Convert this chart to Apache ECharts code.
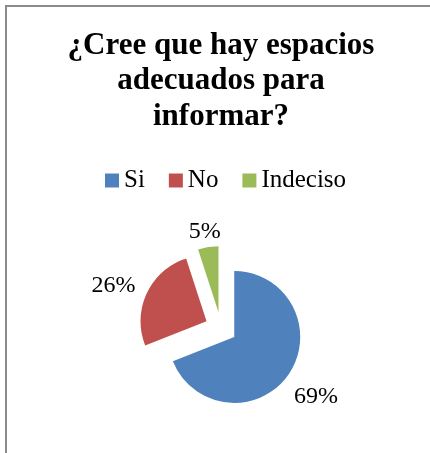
<!DOCTYPE html>
<html>
<head>
<meta charset="utf-8">
<script src="https://cdn.jsdelivr.net/npm/echarts@6/dist/echarts.min.js"></script>
<style>
html,body{margin:0;padding:0;background:#fff;overflow:hidden;}
#main{width:430px;height:453px;}
</style>
</head>
<body>
<div id="main"></div>
<script>
const titleText = '¿Cree que hay espacios\nadecuados para\ninformar?';
const categories = ['Si', 'No', 'Indeciso'];
const values = [69, 26, 5];
const colors = ['#4F81BD', '#C0504D', '#9BBB59'];
// per-slice label line lengths (label placement only, line hidden)
const labelLen1 = [40, 18, 16];
const labelLen2 = [-33, -10, -20];

const chart = echarts.init(document.getElementById('main'), null, {renderer: 'canvas'});
const serif = '"Liberation Serif", "Times New Roman", serif';

const option = {
  animation: false,
  graphic: [{
    type: 'rect',
    shape: {x: 6, y: 6, width: 600, height: 600},
    style: {fill: 'none', stroke: '#8a8a8a', lineWidth: 2},
    silent: true,
    z: -10
  }],
  title: {
    text: titleText,
    left: 221,
    textAlign: 'center',
    top: 28,
    padding: 0,
    textStyle: {
      fontFamily: serif,
      fontWeight: 'bold',
      fontSize: 31,
      lineHeight: 35.5,
      color: '#000'
    }
  },
  legend: {
    data: categories,
    left: 105,
    top: 168,
    padding: 0,
    itemWidth: 14,
    itemHeight: 14,
    itemGap: 24,
    icon: 'rect',
    selectedMode: false,
    textStyle: {fontFamily: serif, fontSize: 25, color: '#000'}
  },
  series: [{
    type: 'pie',
    center: [221, 328],
    radius: 66,
    startAngle: 90,
    clockwise: true,
    avoidLabelOverlap: false,
    selectedMode: 'multiple',
    selectedOffset: 16,
    emphasis: {disabled: true},
    itemStyle: {borderWidth: 0},
    label: {
      show: true,
      position: 'outside',
      formatter: '{d}%',
      fontFamily: serif,
      fontSize: 24,
      color: '#000'
    },
    labelLine: {show: false},
    data: categories.map((c, i) => ({
      name: c,
      value: values[i],
      selected: true,
      itemStyle: {color: colors[i]},
      select: {itemStyle: {color: colors[i]}},
      labelLine: {show: false, length: labelLen1[i], length2: labelLen2[i]}
    }))
  }]
};
chart.setOption(option);
</script>
</body>
</html>
